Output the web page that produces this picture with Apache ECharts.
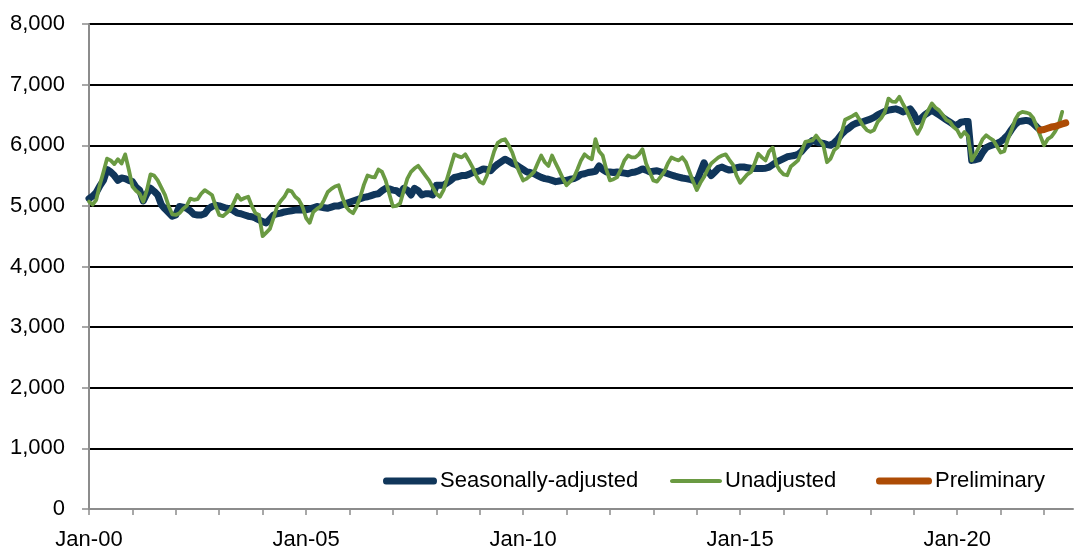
<!DOCTYPE html>
<html>
<head>
<meta charset="utf-8">
<script src="https://cdn.jsdelivr.net/npm/echarts@6/dist/echarts.min.js"></script>
<style>
html,body{margin:0;padding:0;background:#fff;}
#chart{width:1075px;height:552px;}
</style>
</head>
<body>
<div id="chart"></div>
<script>
// ---- DATA ----
const startYear = 2000;
const monthCount = 273; // Jan-2000 .. Sep-2022
const monthNames = ['Jan','Feb','Mar','Apr','May','Jun','Jul','Aug','Sep','Oct','Nov','Dec'];
const yTicks = [0,1000,2000,3000,4000,5000,6000,7000,8000];

const seasonallyAdjusted = [
  5120,5160,5220,5330,5420,5600,5560,5500,5420,5460,5450,5420,
  5400,5310,5260,5080,5200,5290,5240,5180,5020,4950,4890,4830,
  4850,4990,4980,4960,4920,4860,4850,4850,4870,4950,4990,5010,
  5000,4980,4960,4950,4920,4880,4870,4850,4830,4820,4800,4770,
  4740,4720,4780,4850,4870,4880,4900,4910,4920,4930,4935,4930,
  4935,4950,4970,4990,4980,4970,4960,4980,5000,5000,5020,5040,
  5060,5080,5100,5120,5140,5150,5170,5190,5200,5250,5290,5280,
  5260,5250,5200,5290,5260,5180,5290,5250,5180,5200,5200,5180,
  5340,5340,5340,5380,5420,5470,5480,5500,5500,5520,5550,5560,
  5580,5610,5600,5580,5640,5690,5730,5770,5740,5700,5680,5640,
  5600,5560,5550,5530,5500,5470,5450,5440,5420,5400,5410,5420,
  5420,5440,5450,5480,5520,5530,5550,5560,5570,5660,5600,5560,
  5560,5550,5560,5550,5540,5530,5550,5560,5580,5610,5590,5560,
  5570,5580,5560,5550,5530,5510,5490,5475,5460,5450,5440,5420,
  5400,5560,5710,5580,5500,5560,5620,5640,5610,5590,5600,5630,
  5640,5640,5630,5620,5615,5615,5615,5620,5640,5680,5720,5750,
  5780,5810,5820,5830,5850,5900,5970,6030,6080,6060,6040,6030,
  6010,6000,6040,6100,6180,6240,6280,6330,6360,6380,6390,6410,
  6430,6460,6500,6530,6560,6580,6590,6600,6580,6550,6570,6600,
  6520,6390,6440,6500,6540,6575,6540,6500,6460,6420,6380,6340,
  6330,6380,6390,6390,5750,5760,5780,5880,5960,5990,6010,6030,
  6060,6110,6170,6260,6340,6390,6400,6410,6400,6360,6300,6250
];

const unadjusted = [
  5070,5020,5100,5350,5560,5780,5750,5690,5770,5700,5850,5600,
  5320,5250,5200,5070,5260,5520,5500,5420,5300,5180,5000,4860,
  4850,4880,4950,5000,5120,5100,5110,5200,5260,5220,5180,5000,
  4850,4830,4880,4935,5050,5180,5100,5130,5150,5000,4880,4850,
  4500,4560,4620,4800,4990,5080,5150,5260,5240,5150,5100,4990,
  4800,4720,4900,4950,4990,5100,5230,5280,5320,5340,5150,4990,
  4920,4880,4990,5150,5350,5500,5480,5470,5600,5560,5420,5200,
  4990,5000,5040,5250,5450,5560,5620,5660,5580,5500,5420,5310,
  5200,5150,5260,5450,5650,5850,5820,5800,5850,5750,5640,5500,
  5400,5370,5500,5700,5900,6040,6080,6100,6000,5880,5700,5550,
  5420,5450,5500,5560,5700,5830,5720,5660,5830,5700,5580,5450,
  5340,5400,5460,5600,5750,5850,5800,5770,6100,5900,5830,5600,
  5420,5440,5475,5600,5750,5830,5800,5800,5850,5935,5700,5560,
  5420,5400,5480,5560,5700,5800,5770,5750,5800,5720,5560,5400,
  5260,5380,5475,5600,5700,5750,5800,5830,5850,5760,5680,5500,
  5380,5450,5520,5560,5700,5860,5800,5750,5900,5960,5680,5580,
  5520,5505,5650,5700,5750,5900,6055,6070,6080,6160,6080,6000,
  5720,5780,5920,5970,6200,6420,6450,6480,6520,6420,6320,6250,
  6220,6250,6385,6450,6550,6770,6720,6715,6800,6680,6575,6440,
  6300,6190,6300,6470,6580,6690,6620,6575,6500,6420,6385,6300,
  6250,6140,6220,6150,5750,5850,5970,6100,6165,6120,6080,5980,
  5880,5900,6100,6250,6420,6520,6550,6540,6520,6450,6300,6150,
  6000,6100,6140,6220,6330,6550
];

const preliminary = [6250,6260,6280,6300,6310,6330,6350,6370];
// ---- END DATA ----

const categories = [];
for (let i = 0; i < monthCount; i++) {
  const y = startYear + Math.floor(i / 12);
  categories.push(monthNames[i % 12] + '-' + String(y % 100).padStart(2, '0'));
}
const prelimStart = seasonallyAdjusted.length - 1;
const prelimSeries = categories.map((c, i) =>
  (i >= prelimStart && i - prelimStart < preliminary.length) ? preliminary[i - prelimStart] : null);

const FONT = '"Liberation Sans",Arial,sans-serif';
const FS = 22;
const C_SA = '#10365a', C_UN = '#6a9a42', C_PR = '#ad4c05';

function fmt(v){ return String(v).replace(/\B(?=(\d{3})+(?!\d))/g, ','); }
const capsule = 'path://M3,0H51A3,3 0 0 1 51,6H3A3,3 0 0 1 3,0Z';

function legendFor(name, left, w, h, color){
  return {
    data: [{name: name, icon: capsule, itemStyle: {color: color, borderWidth: 0}}],
    left: left, top: 470, itemWidth: w, itemHeight: h, itemGap: 0,
    symbolKeepAspect: false,
    selectedMode: false, padding: 0,
    textStyle: {fontFamily: FONT, fontSize: FS, color: '#000', padding: [0,0,0,-2]}
  };
}

const chart = echarts.init(document.getElementById('chart'), null, {renderer: 'canvas'});
chart.setOption({
  animation: false,
  backgroundColor: '#fff',
  grid: {left: 89, right: 2, top: 24, bottom: 43, containLabel: false},
  legend: [
    legendFor('Seasonally-adjusted', 383, 54, 7, C_SA),
    legendFor('Unadjusted', 670, 52, 4, C_UN),
    legendFor('Preliminary', 876, 56, 7, C_PR)
  ],
  xAxis: {
    type: 'category', data: categories, boundaryGap: false,
    axisLine: {lineStyle: {color: '#8c8c8c', width: 2}},
    axisTick: {show: true, interval: (i) => i % 12 === 0, length: 6, lineStyle: {color: '#8c8c8c', width: 1.5}},
    axisLabel: {interval: (i) => i % 60 === 0, margin: 20, fontFamily: FONT, fontSize: FS, color: '#000'},
    splitLine: {show: false}
  },
  yAxis: {
    type: 'value', min: yTicks[0], max: yTicks[yTicks.length-1], interval: yTicks[1]-yTicks[0],
    axisLine: {show: true, lineStyle: {color: '#8c8c8c', width: 2}},
    axisTick: {show: true, length: 7, lineStyle: {color: '#8c8c8c', width: 1.5}},
    axisLabel: {margin: 24, fontFamily: FONT, fontSize: FS, color: '#000', formatter: fmt},
    splitLine: {show: true, lineStyle: {color: '#000', width: 2}}
  },
  series: [
    {name: 'Seasonally-adjusted', type: 'line', data: seasonallyAdjusted, showSymbol: false, symbol: 'none',
     lineStyle: {color: C_SA, width: 7, cap: 'round', join: 'round'}, itemStyle: {color: C_SA}, z: 3},
    {name: 'Unadjusted', type: 'line', data: unadjusted, showSymbol: false, symbol: 'none',
     lineStyle: {color: C_UN, width: 3.8, cap: 'round', join: 'round'}, itemStyle: {color: C_UN}, z: 4},
    {name: 'Preliminary', type: 'line', data: prelimSeries, showSymbol: false, symbol: 'none', connectNulls: false,
     lineStyle: {color: C_PR, width: 7, cap: 'round', join: 'round'}, itemStyle: {color: C_PR}, z: 5}
  ]
});
</script>
</body>
</html>
